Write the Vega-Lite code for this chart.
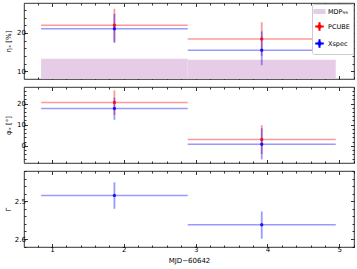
{
  "$schema": "https://vega.github.io/schema/vega-lite/v6.json",
  "padding": {"left": 3, "top": 2, "right": 3, "bottom": 2},
  "datasets": {
    "mdp": [
      {"series": "MDP₉₉", "x0": 0.85, "x1": 2.89, "mdp": 13.3},
      {"series": "MDP₉₉", "x0": 2.89, "x1": 4.95, "mdp": 13.0}
    ],
    "eta": [
      {"series": "PCUBE", "x0": 0.85, "x1": 2.89, "xm": 1.87, "y": 22.0, "lo": 17.7, "hi": 26.3},
      {"series": "PCUBE", "x0": 2.89, "x1": 4.95, "xm": 3.92, "y": 18.4, "lo": 14.0, "hi": 22.8},
      {"series": "Xspec", "x0": 0.85, "x1": 2.89, "xm": 1.87, "y": 21.1, "lo": 17.4, "hi": 25.0},
      {"series": "Xspec", "x0": 2.89, "x1": 4.95, "xm": 3.92, "y": 15.5, "lo": 11.6, "hi": 20.4}
    ],
    "phi": [
      {"series": "PCUBE", "x0": 0.85, "x1": 2.89, "xm": 1.87, "y": 20.5, "lo": 14.6, "hi": 26.2},
      {"series": "PCUBE", "x0": 2.89, "x1": 4.95, "xm": 3.92, "y": 2.95, "lo": -3.9, "hi": 9.8},
      {"series": "Xspec", "x0": 0.85, "x1": 2.89, "xm": 1.87, "y": 17.7, "lo": 12.3, "hi": 22.8},
      {"series": "Xspec", "x0": 2.89, "x1": 4.95, "xm": 3.92, "y": 0.8, "lo": -6.4, "hi": 8.3}
    ],
    "gamma": [
      {"series": "Xspec", "x0": 0.85, "x1": 2.89, "xm": 1.87, "y": 2.485, "lo": 2.45, "hi": 2.52},
      {"series": "Xspec", "x0": 2.89, "x1": 4.95, "xm": 3.92, "y": 2.562, "lo": 2.527, "hi": 2.599}
    ]
  },
  "spacing": 8,
  "bounds": "flush",
  "resolve": {"scale": {"x": "independent", "y": "independent"}, "legend": {"color": "independent"}},
  "vconcat": [
    {
      "width": 330, "height": 76,
      "resolve": {"axis": {"x": "independent", "y": "independent"}},
      "layer": [
        {
          "data": {"name": "mdp"},
          "mark": {"type": "rect", "clip": true},
          "encoding": {
            "x": {"field": "x0", "type": "quantitative", "scale": {"domain": [0.612, 5.204], "nice": false},
              "axis": {"orient": "bottom", "values": [0.8,1,1.2,1.4,1.6,1.8,2,2.2,2.4,2.6,2.8,3,3.2,3.4,3.6,3.8,4,4.2,4.4,4.6,4.8,5,5.2], "labels": false, "title": null,
                "tickSize": {"condition": {"test": "abs(datum.value - round(datum.value)) < 0.001", "value": -3.5}, "value": -2}}},
            "x2": {"field": "x1"},
            "y": {"field": "mdp", "type": "quantitative", "scale": {"domain": [8.0, 27.8], "nice": false, "zero": false},
              "axis": {"orient": "left", "values": [10,12,14,16,18,20,22,24,26], "title": "ηₓ [%]", "titlePadding": 3, "minExtent": 10, "maxExtent": 10, "labelPadding": 2,
                "labelExpr": "abs(datum.value/10 - round(datum.value/10)) < 0.001 ? format(datum.value, 'd') : ''",
                "tickSize": {"condition": {"test": "abs(datum.value/10 - round(datum.value/10)) < 0.001", "value": -3.5}, "value": -2}}},
            "y2": {"datum": 0},
            "color": {"field": "series", "type": "nominal", "scale": {"domain": ["MDP₉₉", "PCUBE", "Xspec"], "range": ["#e6cce6", "#ff0000", "#0000ff"]},
              "legend": {"title": null, "orient": "top-right", "offset": 1, "padding": 3, "strokeColor": "#cccccc", "fillColor": "white", "cornerRadius": 2,
                "labelFontSize": 6.5, "labelFont": "DejaVu Sans", "symbolSize": 50, "rowPadding": 2, "labelOffset": 4,
                "encode": {"symbols": {"update": {
                  "shape": {"signal": "datum.value === 'MDP₉₉' ? 'M-1.5,-0.5H1.5V0.5H-1.5Z' : 'M-1,-0.08H1V0.08H-1Z M-0.08,-1H0.08V1H-0.08Z M-0.3,-0.3H0.3V0.3H-0.3Z'"},
                  "fill": {"signal": "datum.value === 'PCUBE' ? '#ff3030' : datum.value === 'Xspec' ? '#3030ff' : '#e6cce6'"},
                  "stroke": {"value": "transparent"},
                  "opacity": {"value": 1}}}}}}
          }
        },
        {
          "data": {"name": "eta"},
          "mark": {"type": "rule", "strokeWidth": 1.5, "opacity": 0.4, "clip": true},
          "encoding": {
            "x": {"field": "x0", "type": "quantitative", "axis": null},
            "x2": {"field": "x1"},
            "y": {"field": "y", "type": "quantitative", "axis": null},
            "color": {"field": "series", "type": "nominal"}
          }
        },
        {
          "data": {"name": "eta"},
          "mark": {"type": "rule", "strokeWidth": 1.8, "opacity": 0.4, "clip": true},
          "encoding": {
            "x": {"field": "xm", "type": "quantitative", "axis": null},
            "y": {"field": "lo", "type": "quantitative", "axis": null},
            "y2": {"field": "hi"},
            "color": {"field": "series", "type": "nominal"}
          }
        },
        {
          "data": {"name": "eta"},
          "mark": {"type": "point", "filled": true, "size": 12, "opacity": 0.8, "clip": true},
          "encoding": {
            "x": {"field": "xm", "type": "quantitative", "axis": null},
            "y": {"field": "y", "type": "quantitative", "axis": null},
            "color": {"field": "series", "type": "nominal"}
          }
        },
        {
          "data": {"name": "eta"},
          "mark": {"type": "point", "opacity": 0},
          "encoding": {
            "x": {"field": "xm", "type": "quantitative",
              "axis": {"orient": "top", "values": [0.8,1,1.2,1.4,1.6,1.8,2,2.2,2.4,2.6,2.8,3,3.2,3.4,3.6,3.8,4,4.2,4.4,4.6,4.8,5,5.2], "labels": false, "title": null,
                "tickSize": {"condition": {"test": "abs(datum.value - round(datum.value)) < 0.001", "value": -3.5}, "value": -2}}},
            "y": {"field": "y", "type": "quantitative",
              "axis": {"orient": "right", "values": [10,12,14,16,18,20,22,24,26], "labels": false, "title": null,
                "tickSize": {"condition": {"test": "abs(datum.value/10 - round(datum.value/10)) < 0.001", "value": -3.5}, "value": -2}}}
          }
        }
      ]
    },
    {
      "width": 330, "height": 76,
      "resolve": {"axis": {"x": "independent", "y": "independent"}},
      "layer": [
        {
          "data": {"name": "phi"},
          "mark": {"type": "rule", "strokeWidth": 1.5, "opacity": 0.4, "clip": true},
          "encoding": {
            "x": {"field": "x0", "type": "quantitative", "scale": {"domain": [0.612, 5.204], "nice": false},
              "axis": {"orient": "bottom", "values": [0.8,1,1.2,1.4,1.6,1.8,2,2.2,2.4,2.6,2.8,3,3.2,3.4,3.6,3.8,4,4.2,4.4,4.6,4.8,5,5.2], "labels": false, "title": null,
                "tickSize": {"condition": {"test": "abs(datum.value - round(datum.value)) < 0.001", "value": -3.5}, "value": -2}}},
            "x2": {"field": "x1"},
            "y": {"field": "y", "type": "quantitative", "scale": {"domain": [-8.1, 27.8], "nice": false, "zero": false},
              "axis": {"orient": "left", "values": [-6,-4,-2,0,2,4,6,8,10,12,14,16,18,20,22,24,26], "title": "φₓ [°]", "titlePadding": 3, "minExtent": 10, "maxExtent": 10, "labelPadding": 2,
                "labelExpr": "abs(datum.value/10 - round(datum.value/10)) < 0.001 ? format(datum.value, 'd') : ''",
                "tickSize": {"condition": {"test": "abs(datum.value/10 - round(datum.value/10)) < 0.001", "value": -3.5}, "value": -2}}},
            "color": {"field": "series", "type": "nominal", "scale": {"domain": ["MDP₉₉", "PCUBE", "Xspec"], "range": ["#e6cce6", "#ff0000", "#0000ff"]}, "legend": null}
          }
        },
        {
          "data": {"name": "phi"},
          "mark": {"type": "rule", "strokeWidth": 1.8, "opacity": 0.4, "clip": true},
          "encoding": {
            "x": {"field": "xm", "type": "quantitative", "axis": null},
            "y": {"field": "lo", "type": "quantitative", "axis": null},
            "y2": {"field": "hi"},
            "color": {"field": "series", "type": "nominal", "legend": null}
          }
        },
        {
          "data": {"name": "phi"},
          "mark": {"type": "point", "filled": true, "size": 12, "opacity": 0.8, "clip": true},
          "encoding": {
            "x": {"field": "xm", "type": "quantitative", "axis": null},
            "y": {"field": "y", "type": "quantitative", "axis": null},
            "color": {"field": "series", "type": "nominal", "legend": null}
          }
        },
        {
          "data": {"name": "phi"},
          "mark": {"type": "point", "opacity": 0},
          "encoding": {
            "x": {"field": "xm", "type": "quantitative",
              "axis": {"orient": "top", "values": [0.8,1,1.2,1.4,1.6,1.8,2,2.2,2.4,2.6,2.8,3,3.2,3.4,3.6,3.8,4,4.2,4.4,4.6,4.8,5,5.2], "labels": false, "title": null,
                "tickSize": {"condition": {"test": "abs(datum.value - round(datum.value)) < 0.001", "value": -3.5}, "value": -2}}},
            "y": {"field": "y", "type": "quantitative",
              "axis": {"orient": "right", "values": [-6,-4,-2,0,2,4,6,8,10,12,14,16,18,20,22,24,26], "labels": false, "title": null,
                "tickSize": {"condition": {"test": "abs(datum.value/10 - round(datum.value/10)) < 0.001", "value": -3.5}, "value": -2}}}
          }
        }
      ]
    },
    {
      "width": 330, "height": 76,
      "resolve": {"axis": {"x": "independent", "y": "independent"}},
      "layer": [
        {
          "data": {"name": "gamma"},
          "mark": {"type": "rule", "strokeWidth": 1.5, "opacity": 0.4, "clip": true},
          "encoding": {
            "x": {"field": "x0", "type": "quantitative", "scale": {"domain": [0.612, 5.204], "nice": false},
              "axis": {"orient": "bottom", "values": [0.8,1,1.2,1.4,1.6,1.8,2,2.2,2.4,2.6,2.8,3,3.2,3.4,3.6,3.8,4,4.2,4.4,4.6,4.8,5,5.2], "title": "MJD−60642", "titlePadding": 2, "labelPadding": 2,
                "labelExpr": "abs(datum.value - round(datum.value)) < 0.001 ? format(datum.value, 'd') : ''",
                "tickSize": {"condition": {"test": "abs(datum.value - round(datum.value)) < 0.001", "value": -3.5}, "value": -2}}},
            "x2": {"field": "x1"},
            "y": {"field": "y", "type": "quantitative", "scale": {"domain": [2.42, 2.621], "nice": false, "zero": false, "reverse": true},
              "axis": {"orient": "left", "values": [2.42,2.44,2.46,2.48,2.5,2.52,2.54,2.56,2.58,2.6,2.62], "title": "Γ", "titlePadding": 3, "minExtent": 10, "maxExtent": 10, "labelPadding": 2,
                "labelExpr": "abs(datum.value*10 - round(datum.value*10)) < 0.001 ? format(datum.value, '.1f') : ''",
                "tickSize": {"condition": {"test": "abs(datum.value*10 - round(datum.value*10)) < 0.001", "value": -3.5}, "value": -2}}},
            "color": {"field": "series", "type": "nominal", "scale": {"domain": ["MDP₉₉", "PCUBE", "Xspec"], "range": ["#e6cce6", "#ff0000", "#0000ff"]}, "legend": null}
          }
        },
        {
          "data": {"name": "gamma"},
          "mark": {"type": "rule", "strokeWidth": 1.8, "opacity": 0.4, "clip": true},
          "encoding": {
            "x": {"field": "xm", "type": "quantitative", "axis": null},
            "y": {"field": "lo", "type": "quantitative", "axis": null},
            "y2": {"field": "hi"},
            "color": {"field": "series", "type": "nominal", "legend": null}
          }
        },
        {
          "data": {"name": "gamma"},
          "mark": {"type": "point", "filled": true, "size": 12, "opacity": 0.8, "clip": true},
          "encoding": {
            "x": {"field": "xm", "type": "quantitative", "axis": null},
            "y": {"field": "y", "type": "quantitative", "axis": null},
            "color": {"field": "series", "type": "nominal", "legend": null}
          }
        },
        {
          "data": {"name": "gamma"},
          "mark": {"type": "point", "opacity": 0},
          "encoding": {
            "x": {"field": "xm", "type": "quantitative",
              "axis": {"orient": "top", "values": [0.8,1,1.2,1.4,1.6,1.8,2,2.2,2.4,2.6,2.8,3,3.2,3.4,3.6,3.8,4,4.2,4.4,4.6,4.8,5,5.2], "labels": false, "title": null,
                "tickSize": {"condition": {"test": "abs(datum.value - round(datum.value)) < 0.001", "value": -3.5}, "value": -2}}},
            "y": {"field": "y", "type": "quantitative",
              "axis": {"orient": "right", "values": [2.42,2.44,2.46,2.48,2.5,2.52,2.54,2.56,2.58,2.6,2.62], "labels": false, "title": null,
                "tickSize": {"condition": {"test": "abs(datum.value*10 - round(datum.value*10)) < 0.001", "value": -3.5}, "value": -2}}}
          }
        }
      ]
    }
  ],
  "config": {
    "font": "DejaVu Sans",
    "view": {"stroke": "black", "strokeWidth": 0.8},
    "axis": {"labelFont": "DejaVu Sans", "titleFont": "DejaVu Sans", "labelFontSize": 7, "titleFontSize": 7, "titleFontWeight": "normal",
      "labelColor": "black", "titleColor": "black", "tickColor": "black", "tickWidth": 0.8, "domain": false, "grid": false,
      "labelOverlap": false, "labelFlush": false}
  }
}
